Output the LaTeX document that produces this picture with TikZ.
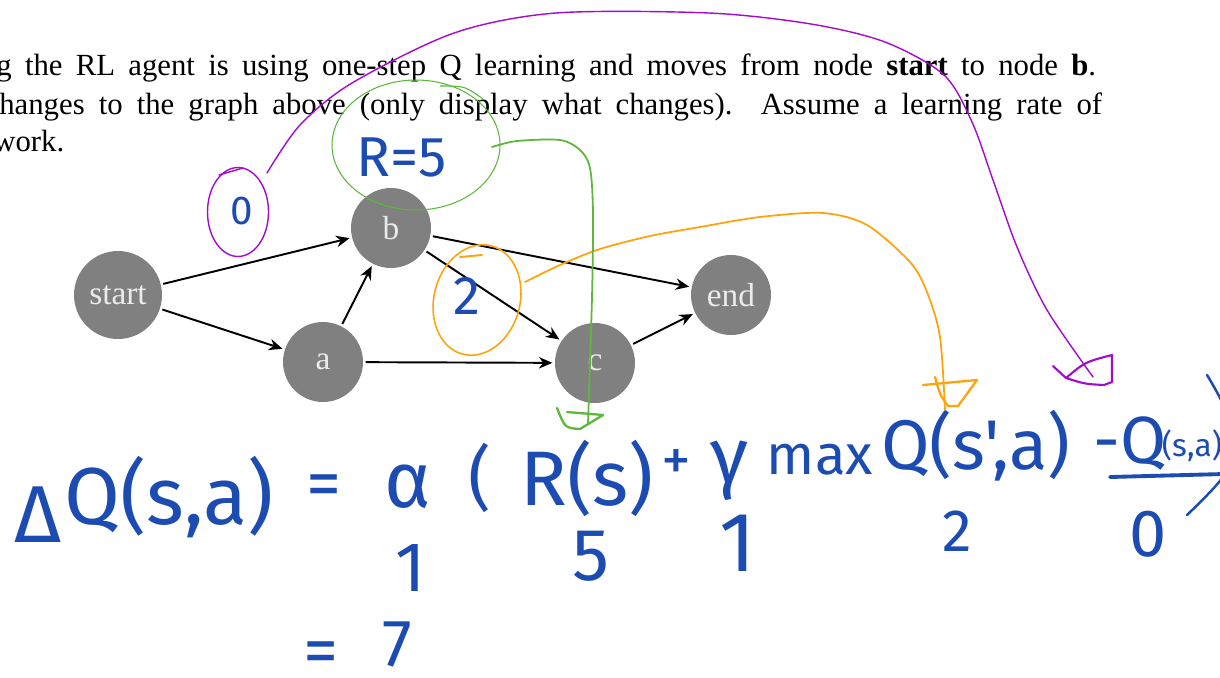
\documentclass[tikz,border=0pt]{standalone}
\usepackage{fontspec}
\setmainfont{Liberation Serif}
\newfontfamily\handfont{Fira Sans}
\usetikzlibrary{arrows.meta,shapes.geometric}
\definecolor{nodegray}{HTML}{808080}
\definecolor{penblue}{HTML}{1C4CB2}
\definecolor{penpurple}{HTML}{A30BCF}
\definecolor{pengreen}{HTML}{5CB83B}
\definecolor{penorange}{HTML}{FFA30D}
\newcommand\handsz[1]{\handfont\fontsize{#1}{#1}\selectfont}

\begin{document}
\begin{tikzpicture}[
  x=0.02cm, y=-0.02cm,
  state/.style={circle, fill=nodegray, text=white!92!black, minimum size=1.6cm,
                inner sep=0pt, outer sep=1.5pt, font=\fontsize{19}{22}\selectfont},
  every edge/.style={draw, -{Stealth[length=2.7mm, width=2.3mm]}, line width=1.1pt},
  task/.style={anchor=base west, inner sep=0pt, font=\fontsize{17.5}{21}\selectfont},
  hw/.style={text=penblue, inner sep=0pt},
  ring/.style={ellipse, draw, inner sep=0pt},
  ink/.style={line width=1.1pt, line cap=round, line join=round},
]
\fill[white] (0,0) rectangle (1220,677);
\useasboundingbox (0,0) rectangle (1220,677);
\clip (0,0) rectangle (1220,677);

% question text
\node[task] (task1) at (-4,75) {\makebox[22cm][s]{g the RL agent is using one-step Q learning and moves from node \textbf{start} to node \textbf{b}.}};
\node[task] (task2) at (-1,114) {\makebox[22.06cm][s]{hanges to the graph above (only display what changes).\ \ Assume a learning rate of}};
\node[task] (task3) at (-7,151) {work.};

% graph
\node[state, minimum size=1.76cm] (start) at (118,295) {start};
\node[state] (b) at (391,228) {b};
\node[state] (a) at (323,362) {a};
\node[state] (c) at (595,363) {c};
\node[state] (fin) at (731,295) {end};

\draw (start) edge (b) edge (a);
\draw (a) edge (b) edge (c);
\draw (b) edge (c) edge (fin);
\draw (c) edge (fin);

% handwritten notes on the graph
\node[ring, draw=penpurple, line width=0.8pt, minimum width=1.22cm, minimum height=1.78cm] (ring0) at (238,212) {};
\node[hw, font=\handsz{23}] (qzero) at (242,211) {0};
\draw[ink, penpurple, line width=0.8pt] (219,175) -- (243,168);

\node[ring, draw=pengreen, line width=0.6pt, minimum width=3.36cm, minimum height=2.6cm] (ringR) at (416,145) {};
\node[hw, font=\handsz{32}] (rew) at (402,157) {R=5};
\draw[pengreen, line width=0.6pt] (440,86) .. controls (465,86) .. (483,99);

\node[ring, draw=penorange, line width=0.9pt, minimum width=1.72cm, minimum height=2.24cm, rotate=-15] (ring2) at (477,300) {};
\node[hw, font=\handsz{31}] (qtwo) at (467,296) {2};
\draw[ink, penorange] (460,257) -- (482,255);

% equation
\node[hw, font=\handsz{46}] (eqdelta) at (38,515) {Δ};
\node[hw, font=\handsz{46}] (eqlhs) at (169,497) {Q(s,a)};
\node[hw, font=\handsz{40}] (eqeq) at (324,491) {=};
\node[hw, font=\handsz{45}] (eqalpha) at (408,487) {α};
\node[hw, font=\handsz{40}] (eqlpar) at (480,478) {(};
\node[hw, font=\handsz{44}] (eqrs) at (587,478) {R(s)};
\node[hw, font=\handsz{34}] (eqplus) at (676,465) {+};
\node[hw, font=\handsz{45}] (eqgamma) at (730,471) {γ};
\node[hw, font=\handsz{32}] (eqmax) at (820,460) {max};
\node[hw, font=\handsz{40}] (eqnext) at (976,446) {Q(s',a)};
\node[hw, font=\handsz{38}] (eqminus) at (1130,444) {-Q};
\node[hw, font=\handsz{18}] (eqold) at (1192,446) {(s,a)};
\draw[penblue, line width=2.2pt, line cap=round] (1110,477) -- (1224,474);
\draw[ink, penblue, line width=1.4pt] plot[smooth] coordinates {(1207,375) (1222,402) (1236,440) (1222,478) (1187,515)};

% values
\node[hw, font=\handsz{40}] (valalpha) at (411,568) {1};
\node[hw, font=\handsz{42}] (valr) at (591,556) {5};
\node[hw, font=\handsz{48}] (valgamma) at (738,543) {1};
\node[hw, font=\handsz{34}] (valnext) at (957,531) {2};
\node[hw, font=\handsz{38}] (valold) at (1148,534) {0};
\node[hw, font=\handsz{40}] (reseq) at (321,658) {=};
\node[hw, font=\handsz{38}] (resval) at (397,644) {7};

% arrows from the notes to the equation
\coordinate (p0) at (267,173);
\coordinate (p1) at (1093,377);
\draw[ink, penpurple, line width=0.8pt] plot[smooth] coordinates {(p0) (300,125) (352,83) (454,33) (556,13) (709,13) (811,24) (885,42) (944,75) (972,122) (993,180) (1017,247) (1047,310) (p1)};
\draw[ink, penpurple, line width=1.2pt] (1053,366) -- (1066,378) .. controls (1085,362) .. (1112,355) -- (1112,382) -- (1104,385) .. controls (1085,384) .. (1066,378);

\coordinate (o0) at (525,282);
\coordinate (o1) at (945,410);
\draw[ink, penorange, line width=1pt] plot[smooth] coordinates {(o0) (560,265) (600,249) (650,236) (700,227) (760,217) (823,213) (867,225) (910,262) (927,292) (940,337) (o1)};
\draw[ink, penorange, line width=1.3pt] (923,385) -- (977,380) -- (958,406) -- (948,406) .. controls (940,395) .. (935,377);

\coordinate (g0) at (492,147);
\coordinate (g1) at (588,423);
\draw[ink, pengreen, line width=1pt] plot[smooth] coordinates {(g0) (517,141) (560,140) (580,150) (590,168) (593,213) (592,297) (g1)};
\draw[ink, pengreen, line width=1.3pt] (557,408) .. controls (565,428) .. (580,429) -- (603,415) -- (567,412);
\end{tikzpicture}
\end{document}
